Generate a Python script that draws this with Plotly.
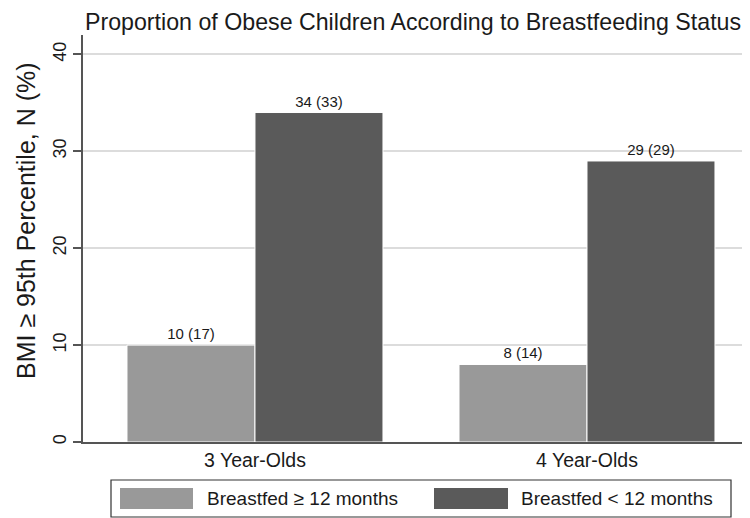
import plotly.graph_objects as go

categories = ["3 Year-Olds", "4 Year-Olds"]
series_names = ["Breastfed \u2265 12 months", "Breastfed < 12 months"]
values_ge12 = [10, 8]
values_lt12 = [34, 29]
labels_ge12 = ["10 (17)", "8 (14)"]
labels_lt12 = ["34 (33)", "29 (29)"]
colors = ["#999999", "#5a5a5a"]
y_ticks = [0, 10, 20, 30, 40]
y_title = "BMI \u2265 95th Percentile, N (%)"
chart_title = "Proportion of Obese Children According to Breastfeeding Status"

FONT = "Liberation Sans, Arial, Helvetica, sans-serif"
OFF = 8  # page body margin compensation
W, H = 750 - OFF, 518 - OFF
L, R, T, B = 83 - OFF, 0, 35 - OFF, 518 - 442

fig = go.Figure()
for name, vals, labs, col in [
    (series_names[0], values_ge12, labels_ge12, colors[0]),
    (series_names[1], values_lt12, labels_lt12, colors[1]),
]:
    fig.add_trace(go.Bar(
        x=categories, y=vals, name=name, text=labs,
        textposition="outside", cliponaxis=False,
        textfont=dict(family=FONT, size=15, color="#1a1a1a"),
        marker=dict(color=col, line=dict(color="white", width=1)),
        showlegend=False,
    ))

fig.update_layout(
    width=W, height=H,
    margin=dict(l=L, r=R, t=T, b=B, pad=0),
    paper_bgcolor="white", plot_bgcolor="white",
    barmode="group", bargap=0.229, bargroupgap=0,
    font=dict(family=FONT, color="#1a1a1a"),
    showlegend=False,
)
fig.update_xaxes(
    range=[-0.518, 1.491], showgrid=False, showline=True,
    linecolor="#555555", linewidth=1.5, ticks="",
    tickfont=dict(family=FONT, size=19.5, color="#1a1a1a"),
)
fig.update_yaxes(
    range=[0, 42], tickvals=y_ticks, ticktext=[str(v) for v in y_ticks],
    tickangle=-90, showgrid=True, gridcolor="#dcdcdc", gridwidth=1.5,
    showline=True, linecolor="#555555", linewidth=1.5,
    ticks="outside", ticklen=8, tickcolor="#555555", tickwidth=1.5,
    tickfont=dict(family=FONT, size=18, color="#1a1a1a"),
    zeroline=False,
)

pw, ph = W - L - R, H - T - B
def px(x):
    return (x - OFF - L) / pw
def py(y):
    return (H - B - (y - OFF)) / ph

# Title
fig.add_annotation(
    text=chart_title,
    xref="paper", yref="paper", x=px(413), y=py(8),
    xanchor="center", yanchor="top", showarrow=False, borderpad=0,
    font=dict(family=FONT, size=23.2, color="#1a1a1a"),
)

# Y axis title
fig.add_annotation(
    text=y_title, textangle=-90,
    xref="paper", yref="paper", x=px(26), y=py(221),
    xanchor="center", yanchor="middle", showarrow=False,
    font=dict(family=FONT, size=25, color="#1a1a1a"),
)

# Custom legend
fig.add_shape(type="rect", xref="paper", yref="paper",
              x0=px(111), x1=px(731), y0=py(517), y1=py(480),
              line=dict(color="#333333", width=1.2), fillcolor="white")
swatches = [(120, 193, 205), (434, 508, 519)]
for (sx0, sx1, tx), name, col in zip(swatches, series_names, colors):
    fig.add_shape(type="rect", xref="paper", yref="paper",
                  x0=px(sx0), x1=px(sx1), y0=py(509), y1=py(488),
                  line=dict(width=0), fillcolor=col)
    fig.add_annotation(text=name, xref="paper", yref="paper",
                       x=px(tx), y=py(498.5), xanchor="left", yanchor="middle",
                       showarrow=False,
                       font=dict(family=FONT, size=19, color="#1a1a1a"))

fig.write_html("out.html")
